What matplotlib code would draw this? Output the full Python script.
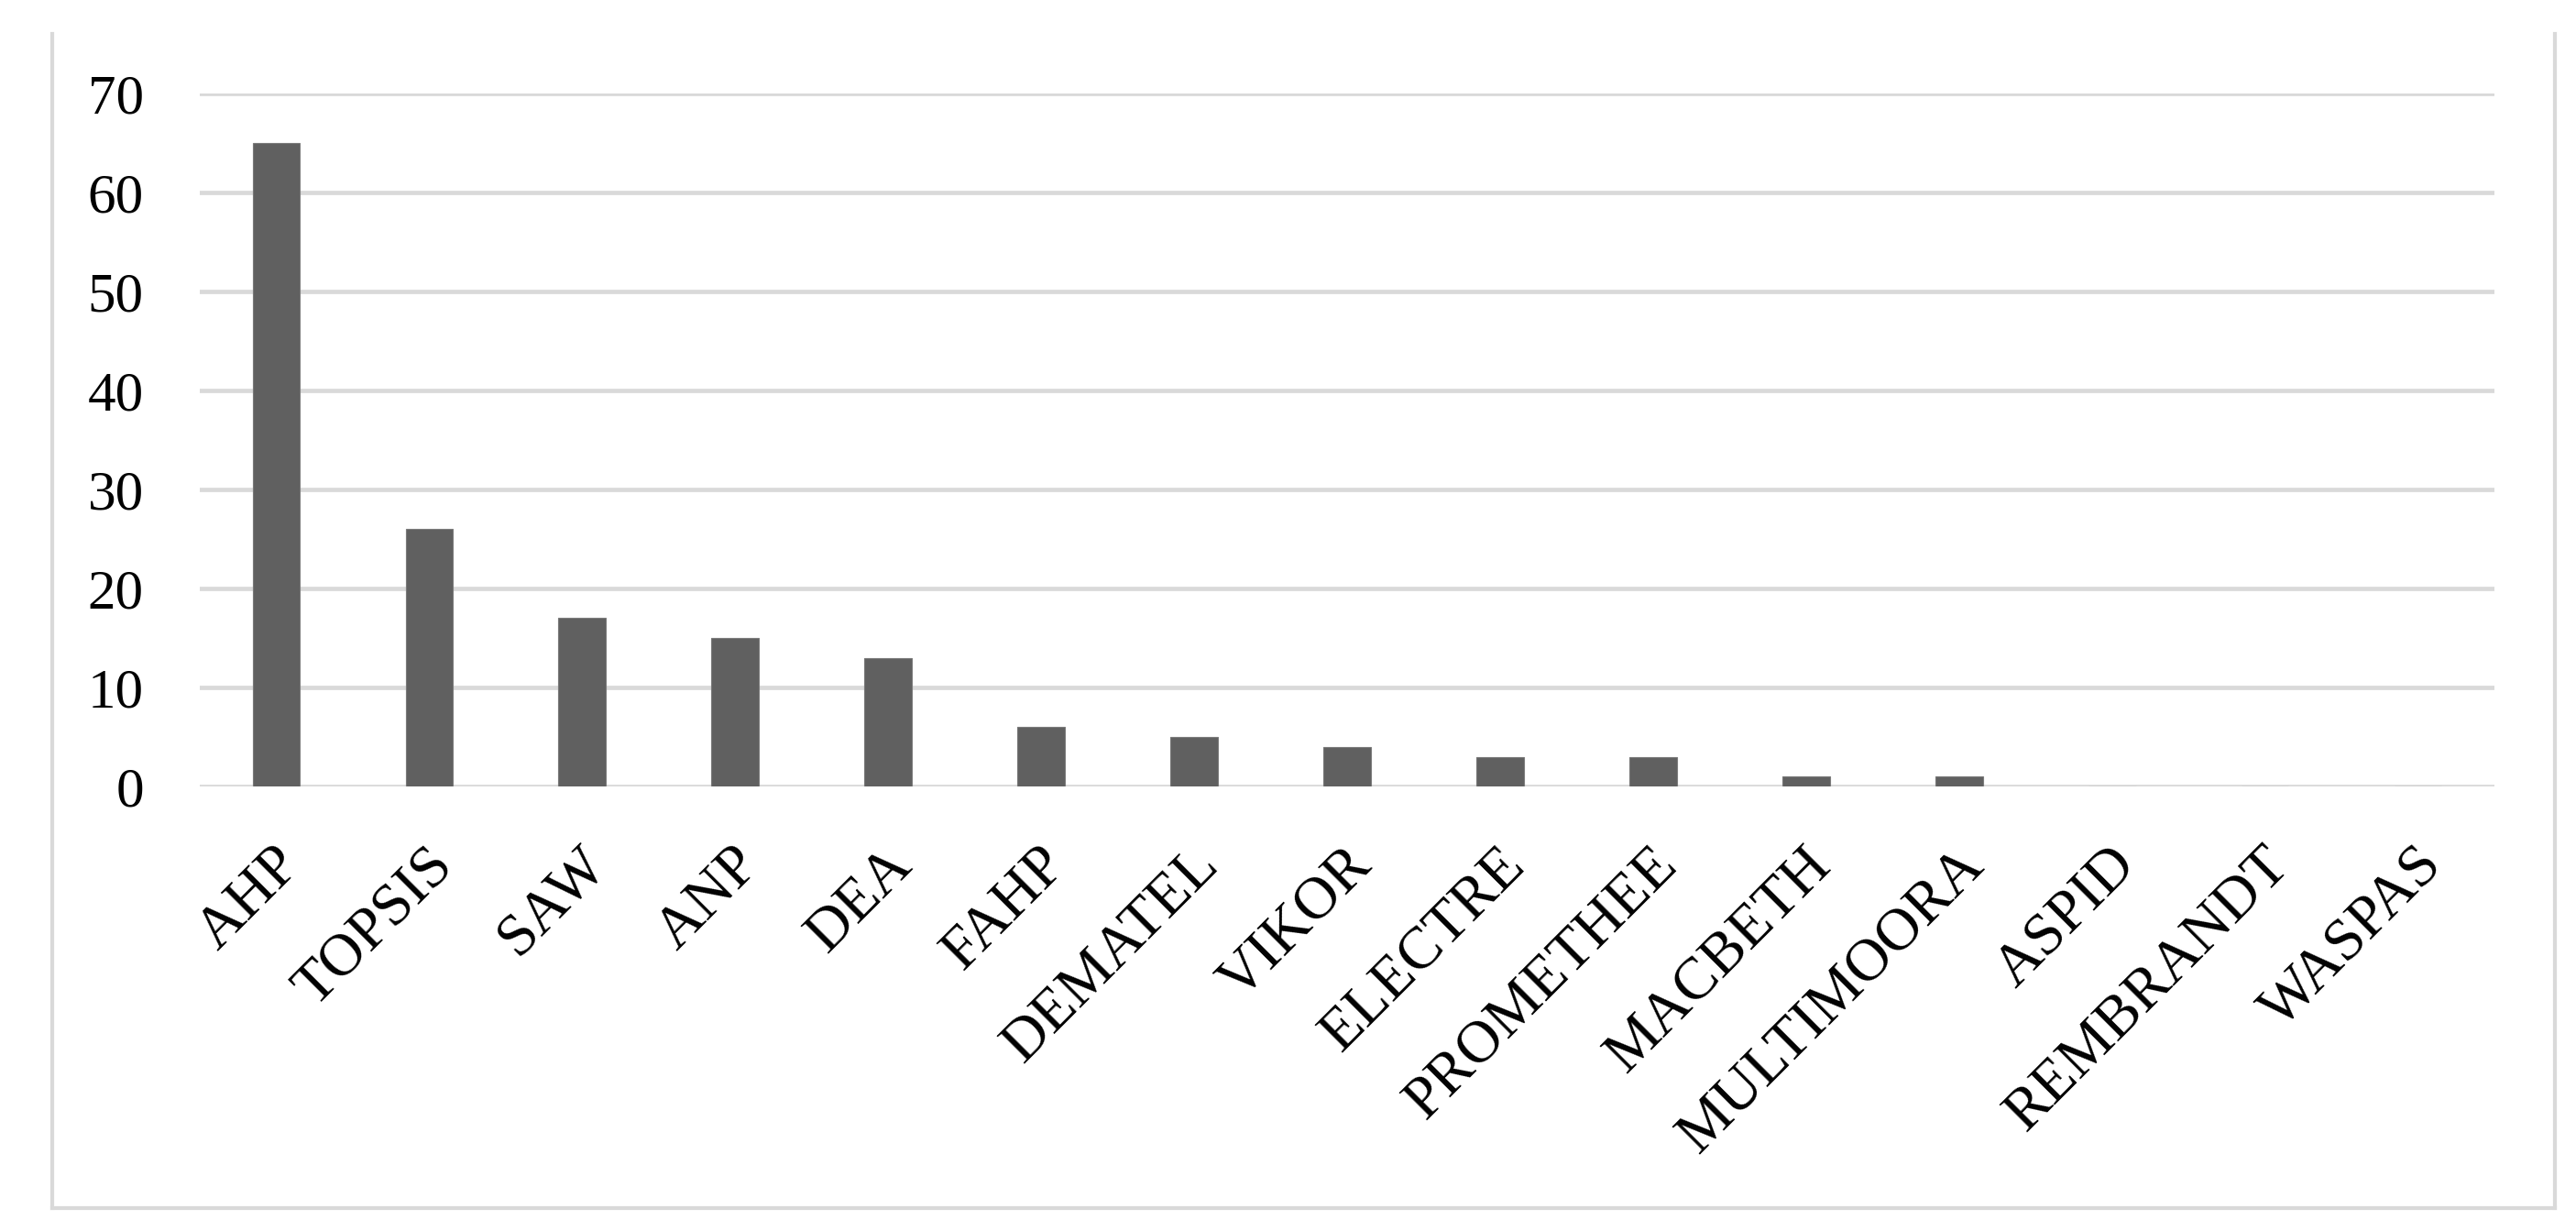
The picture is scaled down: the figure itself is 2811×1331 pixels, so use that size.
import matplotlib
matplotlib.use("Agg")
import matplotlib.pyplot as plt
from matplotlib.lines import Line2D
from matplotlib.transforms import ScaledTranslation

categories = ["AHP", "TOPSIS", "SAW", "ANP", "DEA", "FAHP", "DEMATEL", "VIKOR",
              "ELECTRE", "PROMETHEE", "MACBETH", "MULTIMOORA", "ASPID",
              "REMBRANDT", "WASPAS"]
values = [65, 26, 17, 15, 13, 6, 5, 4, 3, 3, 1, 1, 0, 0, 0]
yticks = [0, 10, 20, 30, 40, 50, 60, 70]

W, H, DPI = 2811, 1331, 100
fig = plt.figure(figsize=(W / DPI, H / DPI), dpi=DPI)
fig.patch.set_facecolor("white")

font = "Liberation Serif"
ax = fig.add_axes([218 / W, 1 - 858 / H, (2722 - 218) / W, (858 - 102) / H])
x = list(range(len(categories)))
ax.bar(x, values, width=0.31, color="#606060", edgecolor="#7a7a7a",
       linewidth=0.8, zorder=3)
ax.set_xlim(-0.5, len(categories) - 0.5)
ax.set_ylim(0, 70)
ax.set_yticks(yticks)
ax.set_yticklabels([str(t) for t in yticks], fontfamily=font, fontsize=44)
ax.yaxis.grid(True, color="#d9d9d9", linewidth=3.4, zorder=0)
ax.set_axisbelow(True)
for s in ax.spines.values():
    s.set_visible(False)
ax.tick_params(axis="y", length=0, pad=44)
ax.tick_params(axis="x", length=0, pad=40)
ax.set_xticks(x)
ax.set_xticklabels(categories, fontfamily=font, fontsize=47, rotation=45,
                   ha="right", va="top", rotation_mode="anchor")
offset = ScaledTranslation(-4 / DPI, 0, fig.dpi_scale_trans)
for lbl in ax.get_xticklabels():
    lbl.set_transform(lbl.get_transform() + offset)

# outer light frame
fc = "#d9d9d9"
fig.add_artist(Line2D([57 / W, 57 / W], [1 - 1318 / H, 1 - 37 / H],
                      transform=fig.transFigure, color=fc, linewidth=3))
fig.add_artist(Line2D([2788 / W, 2788 / W], [1 - 1318 / H, 1 - 37 / H],
                      transform=fig.transFigure, color=fc, linewidth=3))
fig.add_artist(Line2D([57 / W, 2788 / W], [1 - 1318 / H, 1 - 1318 / H],
                      transform=fig.transFigure, color=fc, linewidth=3))

fig.savefig("out.png", dpi=DPI, facecolor="white")
